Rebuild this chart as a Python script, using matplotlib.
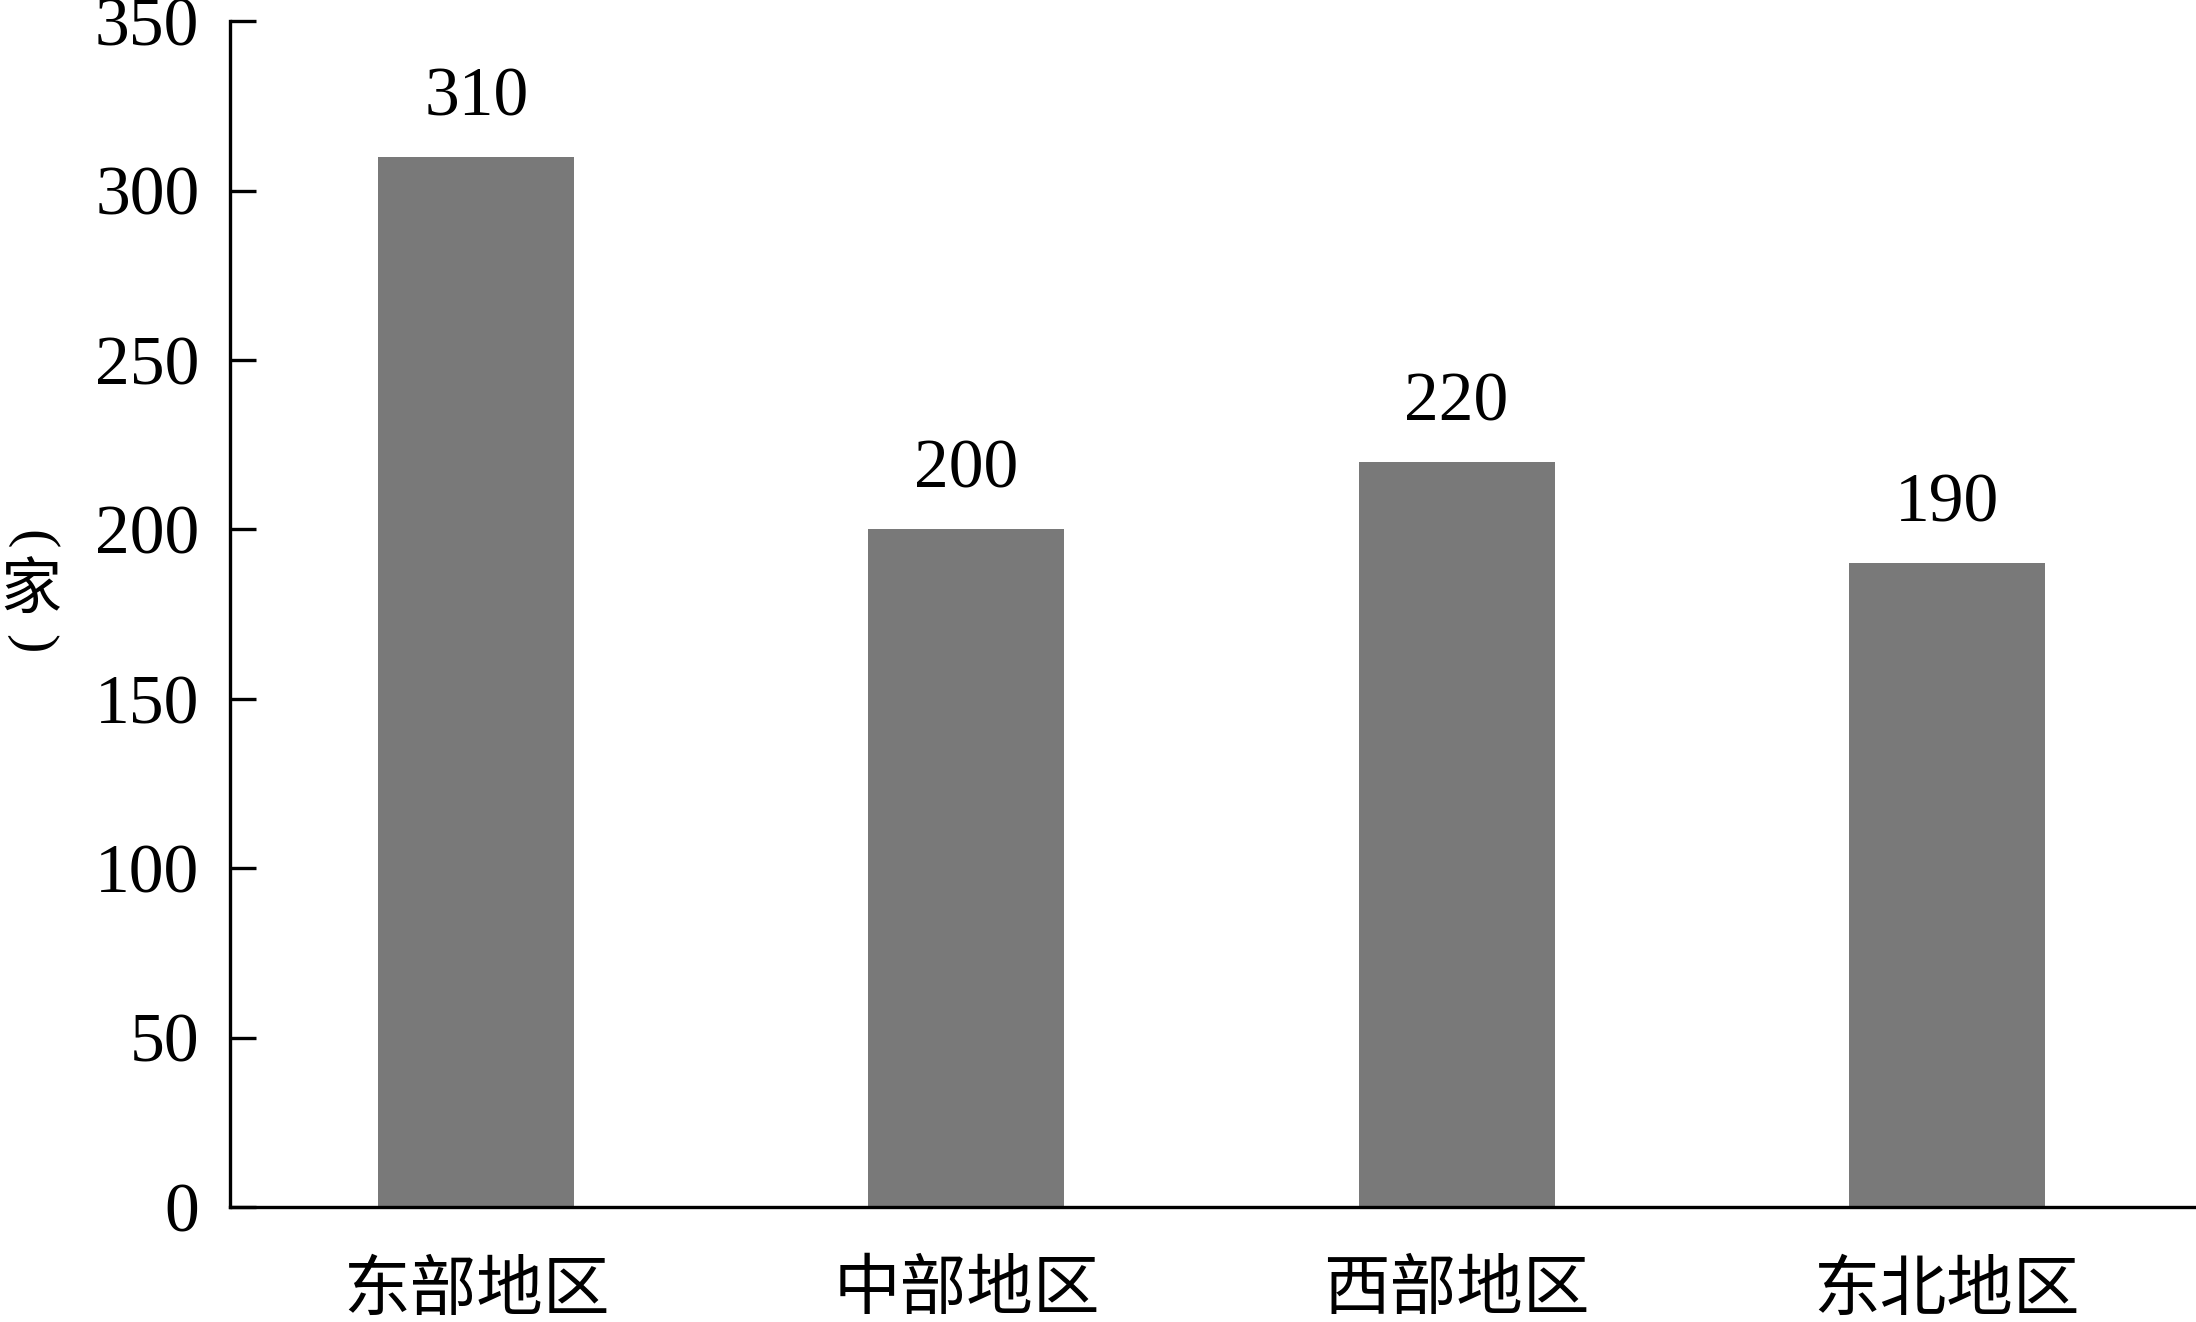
import matplotlib
matplotlib.use('Agg')
from matplotlib import pyplot as plt

# data
regions = ['东部地区', '中部地区', '西部地区', '东北地区']
counts = [310, 200, 220, 190]
y_ticks = [0, 50, 100, 150, 200, 250, 300, 350]

plt.rcParams['font.family'] = ['Liberation Serif', 'Noto Sans CJK SC', 'DejaVu Sans']

fig = plt.figure(figsize=(21.96, 13.22), dpi=100)
ax = fig.add_axes([0.1047, 0.087, 0.8953, 0.897])

x = list(range(len(regions)))
ax.bar(x, counts, width=0.4, color='#797979')

for xi, v in zip(x, counts):
    ax.annotate(str(v), (xi, v), xytext=(0, 42), textcoords='offset points',
                ha='center', va='center', fontsize=50)

ax.set_xlim(-0.503, 3.509)
ax.set_ylim(0, 350)
ax.set_yticks(y_ticks)
ax.set_xticks(x)
ax.set_xticklabels(regions, family=['Noto Sans CJK SC'], fontsize=48)
ax.tick_params(axis='y', direction='in', length=19, width=2.4, labelsize=50, pad=22)
ax.tick_params(axis='x', length=0, pad=36)

for s in ['top', 'right']:
    ax.spines[s].set_visible(False)
for s in ['left', 'bottom']:
    ax.spines[s].set_linewidth(2.4)

# vertical unit label: brackets turned sideways, character upright
fig.text(31 / 2196, 1 - 540 / 1322, '(', family=['Liberation Serif'], fontsize=42,
         rotation=-90, ha='center', va='center')
fig.text(31 / 2196, 1 - 592 / 1322, '家', family=['Noto Sans CJK SC'], fontsize=44,
         ha='center', va='center')
fig.text(31 / 2196, 1 - 644 / 1322, ')', family=['Liberation Serif'], fontsize=42,
         rotation=-90, ha='center', va='center')

fig.savefig('out.png', dpi=100)
